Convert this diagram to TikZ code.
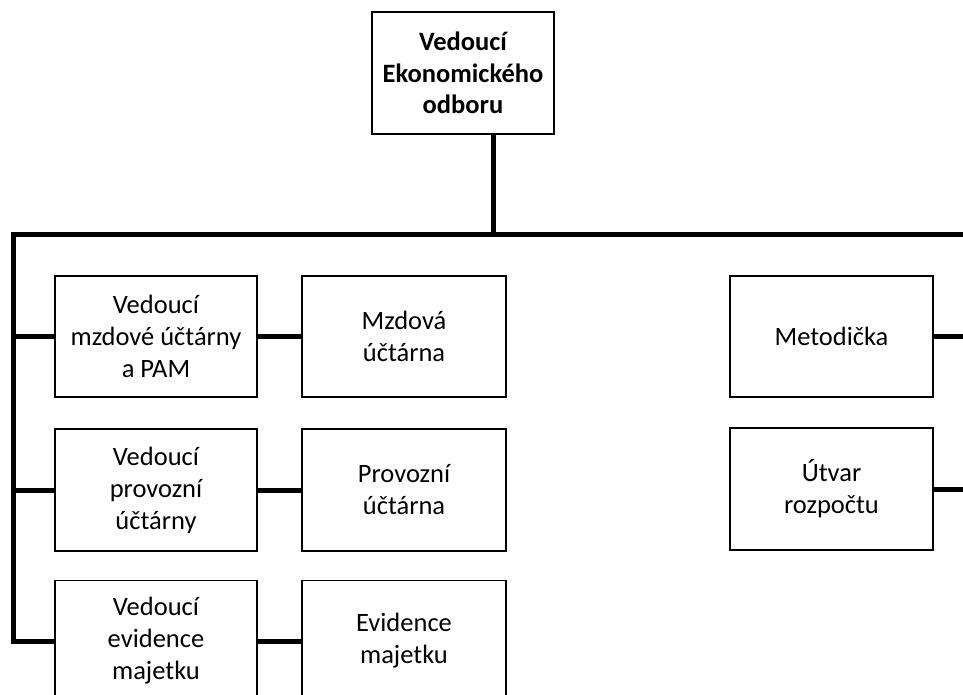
\documentclass[tikz,border=0pt]{standalone}
\usepackage{fontspec}
\setmainfont{Carlito}
\begin{document}
\begin{tikzpicture}[x=1pt,y=-1pt,
  box/.style={draw=black, line width=1.5pt, rectangle, inner sep=0pt, align=center,
    font=\fontsize{26.5}{32}\selectfont},
  link/.style={line width=5pt, line join=miter}]
\useasboundingbox (0,0) rectangle (963,695);
\clip (0,0) rectangle (963,695);
\fill[white] (0,0) rectangle (963,695);

% top box
\node[box, minimum width=182pt, minimum height=122pt, font=\fontsize{26.5}{31.5}\selectfont\bfseries] (top) at (463,73) {Vedoucí\\Ekonomického\\odboru};

% left column
\node[box, minimum width=202pt, minimum height=121pt] (a1) at (156,336.5) {Vedoucí\\mzdové účtárny\\a PAM};
\node[box, minimum width=202pt, minimum height=122pt] (a2) at (156,490) {Vedoucí\\provozní\\účtárny};
\node[box, minimum width=202pt, minimum height=121pt] (a3) at (156,641) {Vedoucí\\evidence\\majetku};

% second column
\node[box, minimum width=204pt, minimum height=121pt] (b1) at (404,336.5) {Mzdová\\účtárna};
\node[box, minimum width=204pt, minimum height=122pt] (b2) at (404,490) {Provozní\\účtárna};
\node[box, minimum width=204pt, minimum height=121pt] (b3) at (404,641) {Evidence\\majetku};

% right column
\node[box, minimum width=203pt, minimum height=121pt] (r1) at (831.5,336.5) {Metodička};
\node[box, minimum width=203pt, minimum height=122pt] (r2) at (831.5,489) {Útvar\\rozpočtu};

% coordinates
\coordinate (stemtop) at (493,134);
\coordinate (busmid) at (493,234);
\coordinate (busright) at (970,234);
\coordinate (busleft) at (13,234);
\coordinate (l1) at (13,336.5);
\coordinate (l2) at (13,490);
\coordinate (l3) at (13,641);
\coordinate (e1) at (970,336.5);
\coordinate (e2) at (970,489);

% connectors
\draw[link] (stemtop) -- (busmid);
\draw[link] (busright) -- (busleft) -- (l3) -- (a3.west);
\draw[link] (l1) -- (a1.west);
\draw[link] (l2) -- (a2.west);
\draw[link] (a1.east) -- (b1.west);
\draw[link] (a2.east) -- (b2.west);
\draw[link] (a3.east) -- (b3.west);
\draw[link] (r1.east) -- (e1);
\draw[link] (r2.east) -- (e2);
\end{tikzpicture}
\end{document}
